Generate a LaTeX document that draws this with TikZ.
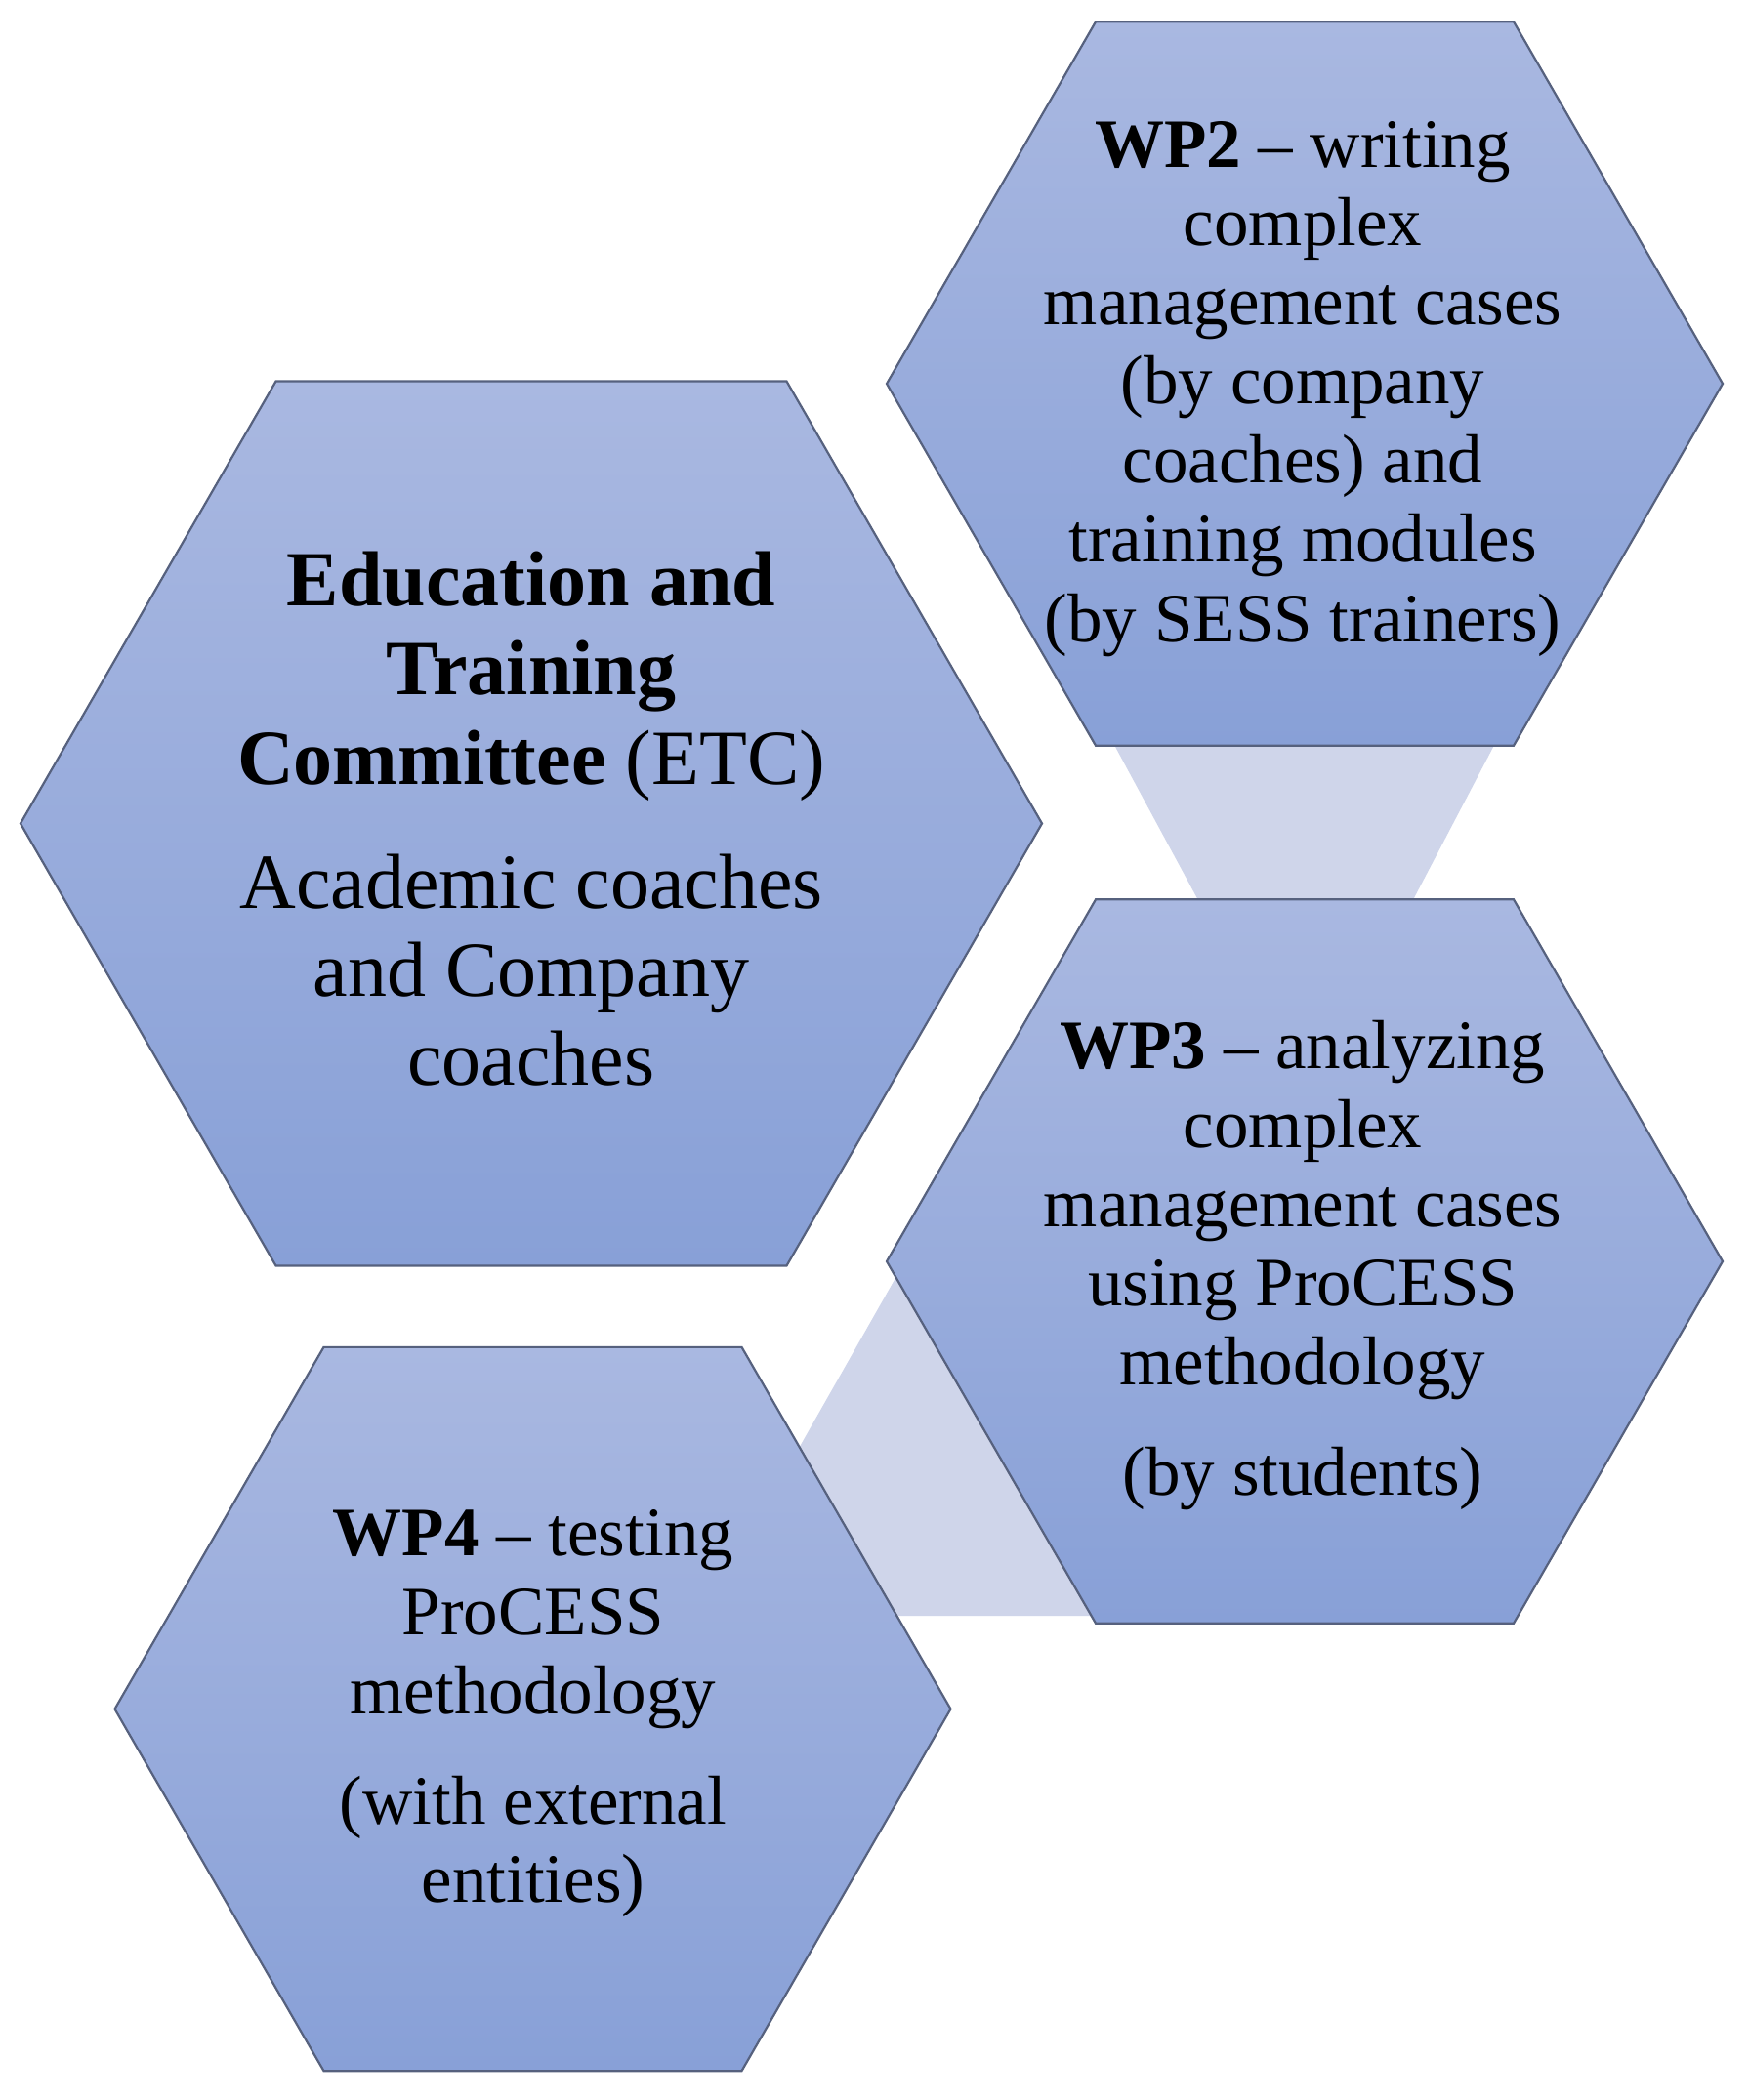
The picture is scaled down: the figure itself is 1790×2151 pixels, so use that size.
\documentclass[tikz,border=0pt]{standalone}
\usepackage{fontspec}
\setmainfont{Liberation Serif}
\usetikzlibrary{shapes.geometric}
\definecolor{hextop}{HTML}{A9B8E1}
\definecolor{hexbot}{HTML}{88A0D7}
\definecolor{hexline}{HTML}{56617E}
\definecolor{bandc}{HTML}{CFD5EA}
\tikzset{
  hexa/.style={regular polygon, regular polygon sides=6, draw=hexline, line width=1.1pt,
    top color=hextop, bottom color=hexbot, inner sep=0pt, outer sep=0pt},
  bandfill/.style={fill=bandc, draw=none},
  bigtxt/.style={font=\fontsize{40}{46}\selectfont, anchor=base, inner sep=0pt, text=black},
  txt/.style={font=\fontsize{35.5}{40.5}\selectfont, anchor=base, inner sep=0pt, text=black},
}
\begin{document}
\begin{tikzpicture}[x=0.5pt,y=-0.5pt]
\useasboundingbox (0,0) rectangle (1790,2151);
\fill[white] (0,0) rectangle (1790,2151);

% light bands linking the hexagons (drawn behind)
\coordinate (b1a) at (1134,750);
\coordinate (b1b) at (1537,750);
\coordinate (b1c) at (1440,935);
\coordinate (b1d) at (1234,935);
\fill[bandfill] (b1a) -- (b1b) -- (b1c) -- (b1d) -- cycle;

\coordinate (b2a) at (921,1302);
\coordinate (b2b) at (800,1515);
\coordinate (b2c) at (880,1655);
\coordinate (b2d) at (1150,1655);
\coordinate (b2e) at (1000,1302);
\fill[bandfill] (b2a) -- (b2b) -- (b2c) -- (b2d) -- (b2e) -- cycle;

% hexagons
\node[hexa, minimum size=523pt] (etc) at (544,843.5) {};
\node[hexa, minimum size=428pt] (wp2) at (1336,393) {};
\node[hexa, minimum size=428pt] (wp3) at (1336,1292) {};
\node[hexa, minimum size=428pt] (wp4) at (545.5,1750.5) {};

% ETC text
\node[bigtxt] (etc1) at (544,620) {\textbf{Education and}};
\node[bigtxt] (etc2) at (544,711.5) {\textbf{Training}};
\node[bigtxt] (etc3) at (544,803) {\textbf{Committee} (ETC)};
\node[bigtxt] (etc4) at (544,930) {Academic coaches};
\node[bigtxt] (etc5) at (544,1020) {and Company};
\node[bigtxt] (etc6) at (544,1111) {coaches};

% WP2 text
\node[txt] (wp2a) at (1334,172) {\textbf{WP2} – writing};
\node[txt] (wp2b) at (1334,252) {complex};
\node[txt] (wp2c) at (1334,332) {management cases};
\node[txt] (wp2d) at (1334,413.5) {(by company};
\node[txt] (wp2e) at (1334,494.5) {coaches) and};
\node[txt] (wp2f) at (1334,575.5) {training modules};
\node[txt] (wp2g) at (1334,657) {(by SESS trainers)};

% WP3 text
\node[txt] (wp3a) at (1334,1094) {\textbf{WP3} – analyzing};
\node[txt] (wp3b) at (1334,1175) {complex};
\node[txt] (wp3c) at (1334,1256) {management cases};
\node[txt] (wp3d) at (1334,1337) {using ProCESS};
\node[txt] (wp3e) at (1334,1418) {methodology};
\node[txt] (wp3f) at (1334,1531) {(by students)};

% WP4 text
\node[txt] (wp4a) at (546,1593) {\textbf{WP4} – testing};
\node[txt] (wp4b) at (546,1674) {ProCESS};
\node[txt] (wp4c) at (546,1755) {methodology};
\node[txt] (wp4d) at (546,1868) {(with external};
\node[txt] (wp4e) at (546,1948) {entities)};
\end{tikzpicture}
\end{document}
